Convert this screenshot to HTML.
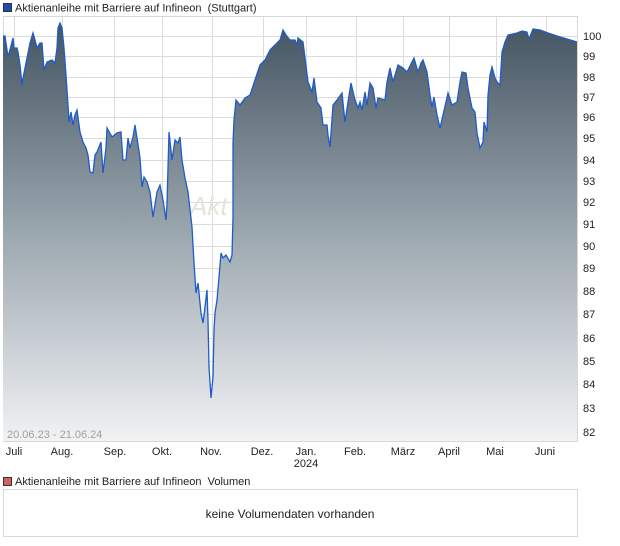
<!DOCTYPE html>
<html><head><meta charset="utf-8"><style>
html,body{margin:0;padding:0;background:#fff;width:620px;height:546px;overflow:hidden}
svg{display:block;font-family:"Liberation Sans",sans-serif}
</style></head><body>
<svg width="620" height="546" viewBox="0 0 620 546" xmlns="http://www.w3.org/2000/svg">
<defs>
<linearGradient id="g" x1="0" y1="20" x2="0" y2="441" gradientUnits="userSpaceOnUse">
<stop offset="0" stop-color="#435361"/>
<stop offset="0.5" stop-color="#9aa6ae"/>
<stop offset="1" stop-color="#f1f2f4"/>
</linearGradient>
<path id="s" d="M3,36 L5,36 L8,57 L12,42 L13,38 L14,48 L17,48 L18,52 L20,65 L22,85 L23,78 L27,58 L30,43 L33,33 L35,40 L37,48 L40,43 L42,43 L44,70 L47,62 L52,60 L55,63 L57,48 L58,28 L60,23 L62,28 L64,48 L66,75 L68,105 L69,122 L71,112 L73,125 L75,115 L77,110 L80,132 L83,142 L86,148 L88,155 L90,172 L93,173 L95,155 L97,152 L101,142 L103,173 L106,148 L107,128 L112,137 L117,133 L121,132 L123,160 L126,160 L128,138 L130,148 L133,137 L135,125 L137,138 L140,158 L142,187 L144,177 L147,182 L150,192 L153,217 L157,192 L160,185 L163,200 L166,220 L167,203 L169,132 L172,160 L175,140 L178,143 L180,137 L182,160 L185,178 L188,192 L192,227 L194,263 L196,293 L198,283 L201,313 L203,323 L205,307 L207,290 L208,320 L209,367 L211,398 L213,377 L214,330 L215,313 L217,300 L219,277 L221,253 L223,258 L226,255 L230,262 L232,255 L233,217 L233,143 L234,120 L236,100 L240,105 L245,98 L250,95 L255,80 L260,65 L265,60 L270,50 L275,45 L280,40 L283,30 L286,35 L290,40 L295,40 L297,45 L298,38 L303,42 L305,58 L308,82 L312,92 L314,78 L317,102 L321,108 L323,125 L327,125 L328,135 L330,147 L333,105 L337,100 L342,93 L345,122 L348,102 L351,83 L355,100 L358,108 L360,102 L362,110 L365,92 L367,105 L370,83 L373,88 L376,108 L378,98 L385,100 L387,82 L390,68 L393,82 L398,65 L403,68 L407,72 L414,58 L418,72 L421,63 L423,60 L427,72 L430,95 L432,107 L434,97 L437,115 L440,128 L443,115 L448,93 L452,105 L457,102 L460,82 L462,72 L466,73 L468,88 L472,108 L475,112 L477,133 L480,148 L483,142 L484,122 L487,132 L488,95 L490,75 L492,67 L495,78 L497,82 L500,85 L502,52 L505,42 L508,35 L517,33 L522,31 L527,32 L529,39 L533,29 L540,30 L548,33 L557,36 L567,39 L577,42"/>
</defs>
<rect x="3.5" y="3.5" width="8" height="8" fill="#1c4fb3" stroke="#333" stroke-width="1"/>
<text x="15" y="11.5" font-size="11" fill="#222" xml:space="preserve">Aktienanleihe mit Barriere auf Infineon&#160;&#160;(Stuttgart)</text>
<g stroke="#dcdcdc" stroke-width="1">
<line x1="3" y1="36.5" x2="577" y2="36.5"/><line x1="3" y1="56.5" x2="577" y2="56.5"/><line x1="3" y1="77.5" x2="577" y2="77.5"/><line x1="3" y1="97.5" x2="577" y2="97.5"/><line x1="3" y1="117.5" x2="577" y2="117.5"/><line x1="3" y1="138.5" x2="577" y2="138.5"/><line x1="3" y1="160.5" x2="577" y2="160.5"/><line x1="3" y1="181.5" x2="577" y2="181.5"/><line x1="3" y1="202.5" x2="577" y2="202.5"/><line x1="3" y1="224.5" x2="577" y2="224.5"/><line x1="3" y1="246.5" x2="577" y2="246.5"/><line x1="3" y1="268.5" x2="577" y2="268.5"/><line x1="3" y1="291.5" x2="577" y2="291.5"/><line x1="3" y1="314.5" x2="577" y2="314.5"/><line x1="3" y1="338.5" x2="577" y2="338.5"/><line x1="3" y1="361.5" x2="577" y2="361.5"/><line x1="3" y1="384.5" x2="577" y2="384.5"/><line x1="3" y1="408.5" x2="577" y2="408.5"/><line x1="3" y1="432.5" x2="577" y2="432.5"/>
<line x1="14.5" y1="16" x2="14.5" y2="441"/><line x1="62.5" y1="16" x2="62.5" y2="441"/><line x1="114.5" y1="16" x2="114.5" y2="441"/><line x1="162.5" y1="16" x2="162.5" y2="441"/><line x1="212.5" y1="16" x2="212.5" y2="441"/><line x1="263.5" y1="16" x2="263.5" y2="441"/><line x1="306.5" y1="16" x2="306.5" y2="441"/><line x1="356.5" y1="16" x2="356.5" y2="441"/><line x1="403.5" y1="16" x2="403.5" y2="441"/><line x1="449.5" y1="16" x2="449.5" y2="441"/><line x1="496.5" y1="16" x2="496.5" y2="441"/><line x1="546.5" y1="16" x2="546.5" y2="441"/>
</g>
<rect x="3.5" y="16.5" width="574" height="425" fill="none" stroke="#d8d8d8"/>
<text x="190" y="215" font-size="26" font-style="italic" fill="#e6e2dc">Akt</text>
<path d="M3,36 L5,36 L8,57 L12,42 L13,38 L14,48 L17,48 L18,52 L20,65 L22,85 L23,78 L27,58 L30,43 L33,33 L35,40 L37,48 L40,43 L42,43 L44,70 L47,62 L52,60 L55,63 L57,48 L58,28 L60,23 L62,28 L64,48 L66,75 L68,105 L69,122 L71,112 L73,125 L75,115 L77,110 L80,132 L83,142 L86,148 L88,155 L90,172 L93,173 L95,155 L97,152 L101,142 L103,173 L106,148 L107,128 L112,137 L117,133 L121,132 L123,160 L126,160 L128,138 L130,148 L133,137 L135,125 L137,138 L140,158 L142,187 L144,177 L147,182 L150,192 L153,217 L157,192 L160,185 L163,200 L166,220 L167,203 L169,132 L172,160 L175,140 L178,143 L180,137 L182,160 L185,178 L188,192 L192,227 L194,263 L196,293 L198,283 L201,313 L203,323 L205,307 L207,290 L208,320 L209,367 L211,398 L213,377 L214,330 L215,313 L217,300 L219,277 L221,253 L223,258 L226,255 L230,262 L232,255 L233,217 L233,143 L234,120 L236,100 L240,105 L245,98 L250,95 L255,80 L260,65 L265,60 L270,50 L275,45 L280,40 L283,30 L286,35 L290,40 L295,40 L297,45 L298,38 L303,42 L305,58 L308,82 L312,92 L314,78 L317,102 L321,108 L323,125 L327,125 L328,135 L330,147 L333,105 L337,100 L342,93 L345,122 L348,102 L351,83 L355,100 L358,108 L360,102 L362,110 L365,92 L367,105 L370,83 L373,88 L376,108 L378,98 L385,100 L387,82 L390,68 L393,82 L398,65 L403,68 L407,72 L414,58 L418,72 L421,63 L423,60 L427,72 L430,95 L432,107 L434,97 L437,115 L440,128 L443,115 L448,93 L452,105 L457,102 L460,82 L462,72 L466,73 L468,88 L472,108 L475,112 L477,133 L480,148 L483,142 L484,122 L487,132 L488,95 L490,75 L492,67 L495,78 L497,82 L500,85 L502,52 L505,42 L508,35 L517,33 L522,31 L527,32 L529,39 L533,29 L540,30 L548,33 L557,36 L567,39 L577,42 L577,441 L3,441 Z" fill="url(#g)"/>
<use href="#s" fill="none" stroke="#1d5cc9" stroke-width="1.3"/>
<text x="7" y="438" font-size="11" fill="#a0a0a0">20.06.23 - 21.06.24</text>
<g font-size="11" fill="#222">
<text x="583" y="40">100</text><text x="583" y="60">99</text><text x="583" y="81">98</text><text x="583" y="101">97</text><text x="583" y="121">96</text><text x="583" y="142">95</text><text x="583" y="164">94</text><text x="583" y="185">93</text><text x="583" y="206">92</text><text x="583" y="228">91</text><text x="583" y="250">90</text><text x="583" y="272">89</text><text x="583" y="295">88</text><text x="583" y="318">87</text><text x="583" y="342">86</text><text x="583" y="365">85</text><text x="583" y="388">84</text><text x="583" y="412">83</text><text x="583" y="436">82</text>
</g>
<g font-size="11" fill="#222" text-anchor="middle">
<text x="14" y="455">Juli</text><text x="62" y="455">Aug.</text><text x="115" y="455">Sep.</text><text x="162" y="455">Okt.</text><text x="211" y="455">Nov.</text><text x="262" y="455">Dez.</text><text x="306" y="455">Jan.</text><text x="306" y="467">2024</text><text x="355" y="455">Feb.</text><text x="403" y="455">März</text><text x="449" y="455">April</text><text x="495" y="455">Mai</text><text x="545" y="455">Juni</text>
</g>
<rect x="3.5" y="477.5" width="8" height="8" fill="#d65f5f" stroke="#333"/>
<text x="15" y="485" font-size="11" fill="#222" xml:space="preserve">Aktienanleihe mit Barriere auf Infineon&#160;&#160;Volumen</text>
<rect x="3.5" y="489.5" width="574" height="47" fill="#fff" stroke="#d8d8d8"/>
<text x="290" y="518" font-size="12" fill="#222" text-anchor="middle">keine Volumendaten vorhanden</text>
</svg>
</body></html>
